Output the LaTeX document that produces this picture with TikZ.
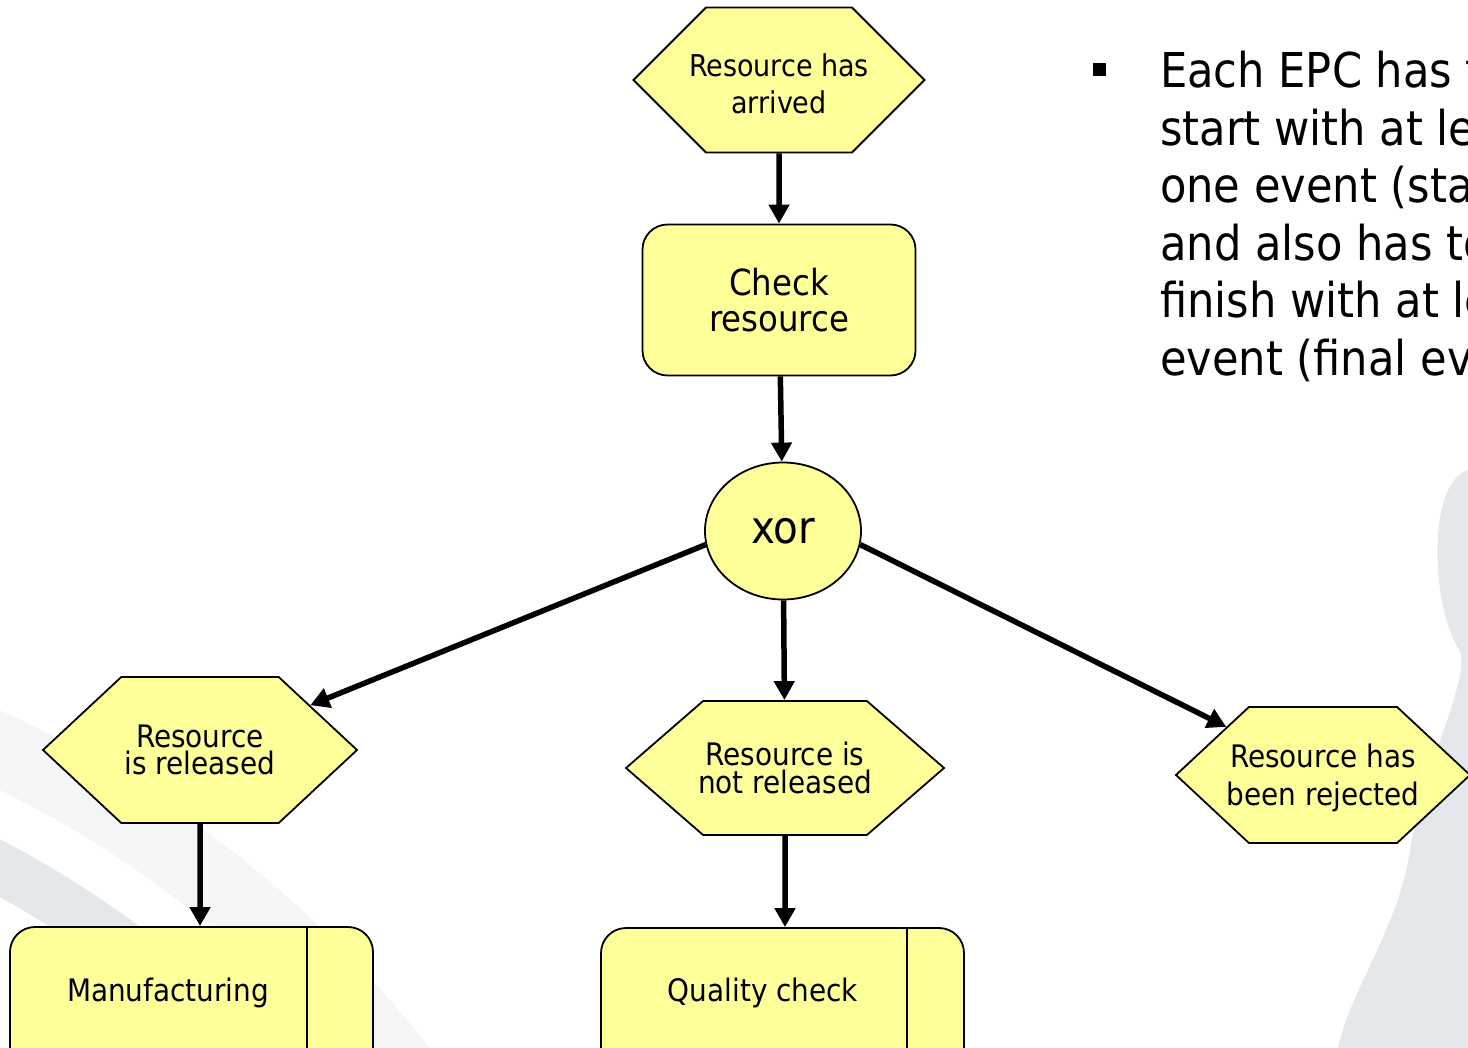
\documentclass[tikz,border=0pt]{standalone}
\usepackage{fontspec}
\setmainfont{DejaVu Sans Condensed}
\usepackage{tikz}
\usetikzlibrary{arrows.meta}
\usetikzlibrary{shapes.symbols,shapes.geometric}
\definecolor{epcyellow}{HTML}{FFFF99}
\definecolor{bgswoosh}{HTML}{E5E8EB}
\definecolor{bgswooshlt}{HTML}{F4F5F7}
\newcommand\fsz[2]{\fontsize{#1}{#2}\selectfont}
\tikzstyle{flowhead}=[>/.tip={Triangle[length=19pt,width=20pt]}]
\tikzstyle{flow}=[line width=5.5pt,flowhead,->]
\tikzstyle{epcbox}=[draw,line width=1.8pt,fill=epcyellow,inner sep=0pt]
\tikzstyle{event}=[epcbox,signal,signal to=east and west,signal pointer angle=86,inner xsep=-25pt,align=center,font=\fsz{30}{37}]
\tikzstyle{func}=[epcbox,rectangle,rounded corners=25pt,align=center]
\tikzstyle{conn}=[epcbox,ellipse,minimum width=156pt,minimum height=137pt,font=\fsz{45}{50}]
\tikzstyle{functext}=[inner sep=0pt,font=\fsz{31}{36}]

\begin{document}
\begin{tikzpicture}[x=1pt,y=-1pt]
\useasboundingbox (0,0) rectangle (1468,1048);
\clip (0,0) rectangle (1468,1048);
% slide background
\fill[bgswooshlt,even odd rule] (-475,1758) circle[radius=1150pt] (-475,1758) circle[radius=1078pt];
\fill[bgswoosh,even odd rule] (-475,1758) circle[radius=1034pt] (-475,1758) circle[radius=983pt];
\fill[bgswoosh] (1468,470) .. controls (1428,482) and (1430,600) .. (1458,648)
  .. controls (1475,670) and (1425,760) .. (1410,850)
  .. controls (1398,930) and (1352,985) .. (1338,1048) -- (1468,1048) -- cycle;

% events, functions and the connector
\node[event,signal pointer angle=90,minimum width=291pt,minimum height=145pt] (arrived) at (779,80) {\rule{0pt}{30pt}Resource has\\arrived};
\node[func,minimum width=273pt,minimum height=151pt,font=\fsz{36}{36}] (check) at (779,300) {Check\\resource};
\node[conn] (xor) at (783,531) {xor};
\node[event,minimum width=314pt,minimum height=146pt,font=\fsz{31}{27}] (released) at (200,750) {Resource\\is released};
\node[event,signal pointer angle=82,minimum width=318pt,minimum height=134pt,font=\fsz{31}{28}] (notrel) at (785,768) {Resource is\\not released};
\node[event,minimum width=294pt,minimum height=136pt,font=\fsz{31}{38}] (rejected) at (1323,775) {\rule{0pt}{29pt}Resource has\\been rejected};
\node[func,minimum width=363pt,minimum height=151pt] (manuf) at (191.5,1002.5) {};
\node[functext] (manuftext) at (168,993) {Manufacturing};
\draw[line width=1.8pt] ([xshift=-67pt]manuf.north east) -- ([xshift=-67pt]manuf.south east);
\node[func,minimum width=363pt,minimum height=151pt] (quality) at (782.5,1003.5) {};
\node[functext] (qualitytext) at (763,993) {Quality check};
\draw[line width=1.8pt] ([xshift=-58pt]quality.north east) -- ([xshift=-58pt]quality.south east);

% control flow
\draw[flow] (arrived) -- (check);
\draw[flow] (check) -- (xor);
\draw[flow] (xor.190) -- (released);
\draw[flow] (xor) -- (notrel);
\draw[flow] (xor.350) -- (rejected);
\draw[flow] (released) -- (released |- manuf.north);
\draw[flow] (notrel) -- (notrel |- quality.north);

% bullet text
\node[fill=black,minimum size=13pt,inner sep=0pt] (bullet) at (1099,70) {};
\node[anchor=north west,align=left,inner sep=0pt,font=\fsz{48}{57.5}] (epcrule) at (1160,51)
  {Each EPC has to\\start with at least\\one event (start event)\\and also has to\\finish with at least one\\event (final event)};
\end{tikzpicture}
\end{document}
